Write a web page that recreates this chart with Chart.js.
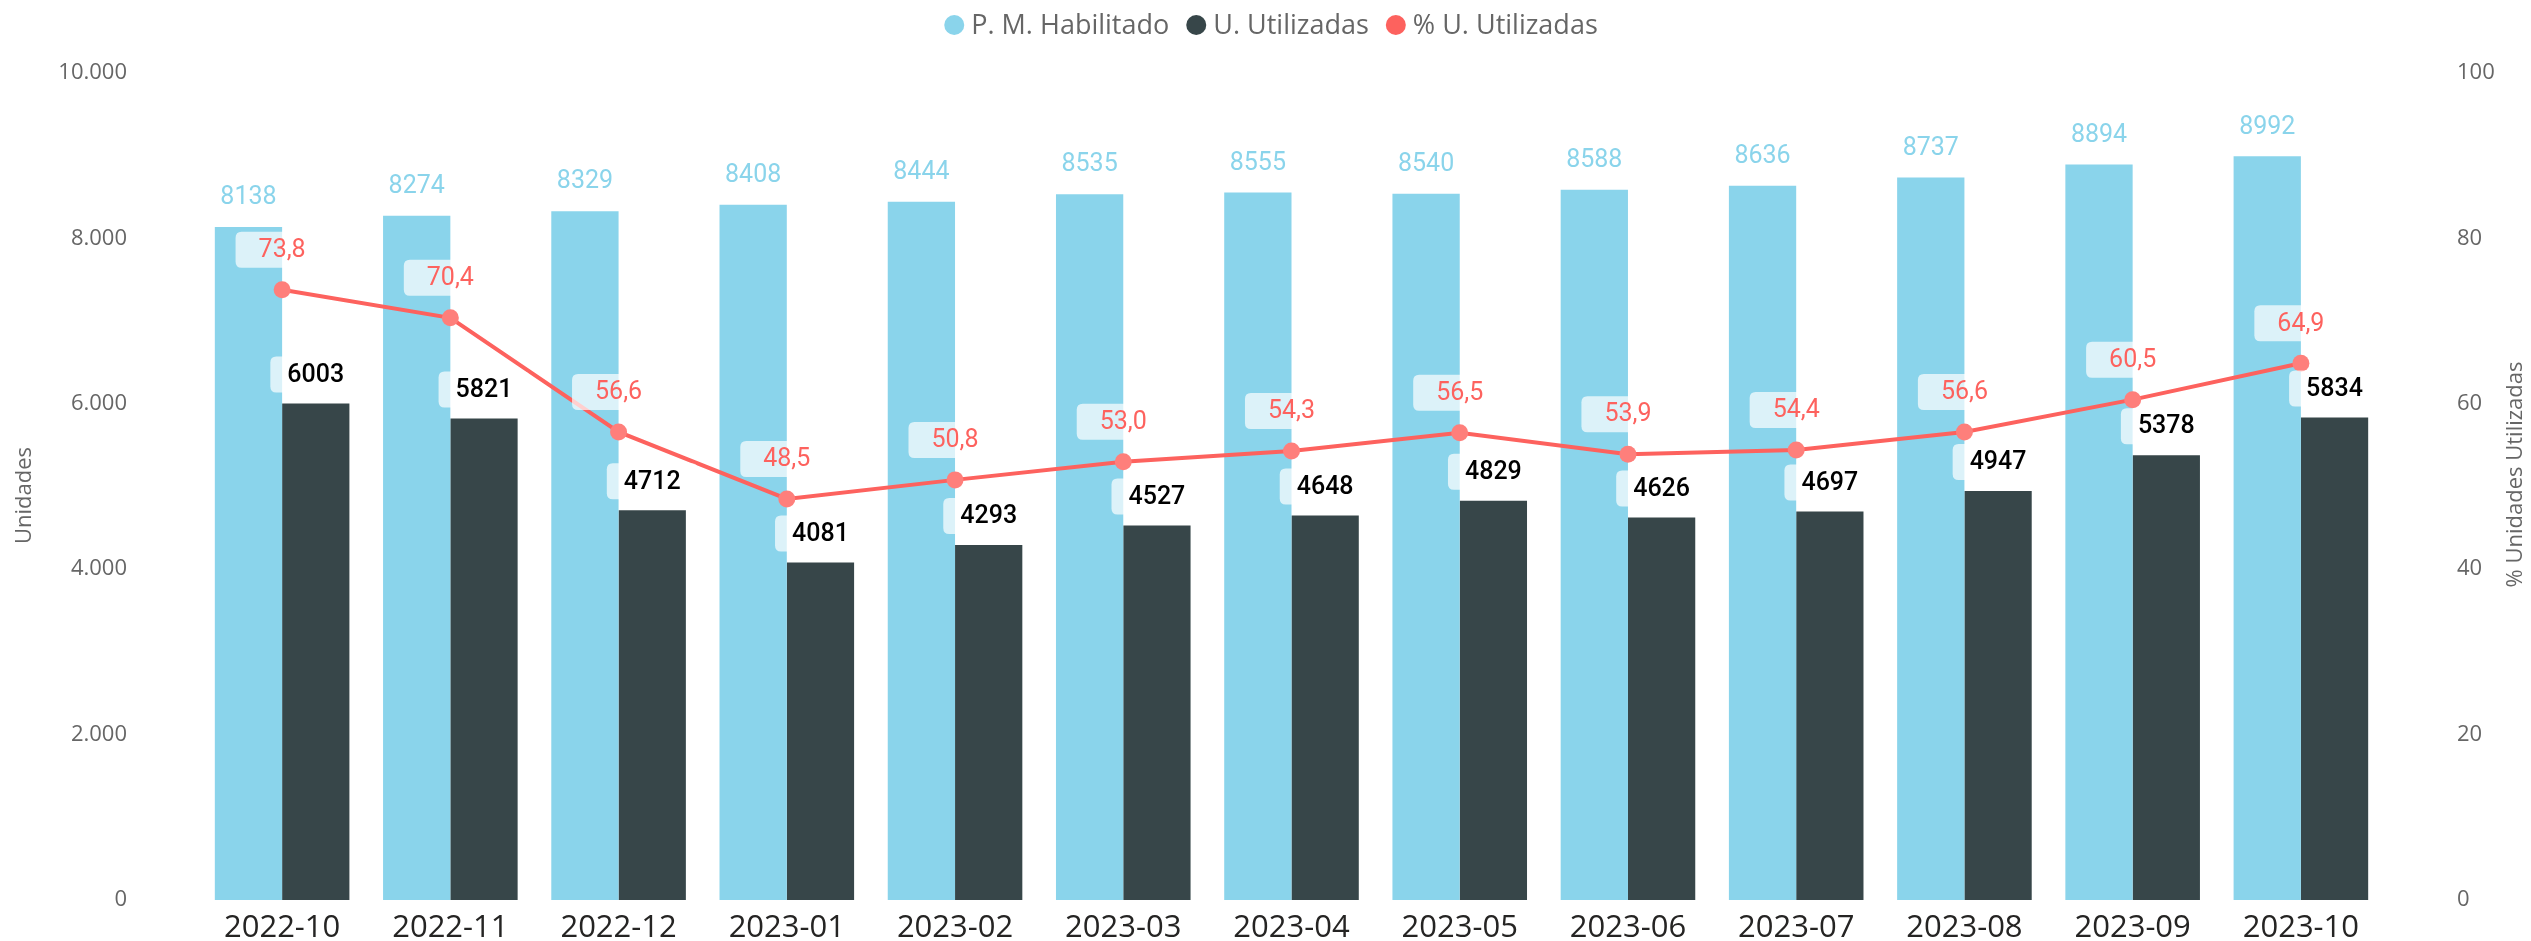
<!DOCTYPE html>
<html>
<head>
<meta charset="utf-8">
<script src="https://cdn.jsdelivr.net/npm/chart.js@4.4.1/dist/chart.umd.min.js"></script>
<style>
  html, body { margin: 0; padding: 0; background: #ffffff; }
  #wrap { width: 2531px; height: 941px; position: relative; }
</style>
</head>
<body>
<div id="wrap"><canvas id="c" width="2531" height="941"></canvas></div>
<script>
const categories = ['2022-10','2022-11','2022-12','2023-01','2023-02','2023-03','2023-04','2023-05','2023-06','2023-07','2023-08','2023-09','2023-10'];
const habilitado = [8138, 8274, 8329, 8408, 8444, 8535, 8555, 8540, 8588, 8636, 8737, 8894, 8992];
const utilizadas = [6003, 5821, 4712, 4081, 4293, 4527, 4648, 4829, 4626, 4697, 4947, 5378, 5834];
const pctUtilizadas = [73.8, 70.4, 56.6, 48.5, 50.8, 53.0, 54.3, 56.5, 53.9, 54.4, 56.6, 60.5, 64.9];
const leftTicks = [0, 2000, 4000, 6000, 8000, 10000];
const rightTicks = [0, 20, 40, 60, 80, 100];
const seriesNames = ['P. M. Habilitado', 'U. Utilizadas', '% U. Utilizadas'];
const axisTitles = ['Unidades', '% Unidades Utilizadas'];

const C_LIGHT = '#8AD4EB';
const C_DARK = '#374649';
const C_RED = '#FD625E';
const C_POINT = '#FE7F7B';
const TXT = '#666666';
const UI_FONT = '"Open Sans", "Noto Sans", sans-serif';
const LBL_FONT = 'Roboto, "Noto Sans", sans-serif';

function fmtThousands(v) {
  return String(Math.round(v)).replace(/\B(?=(\d{3})+(?!\d))/g, '.');
}
function fmtPct(v) { return v.toFixed(1).replace('.', ','); }

function roundRect(ctx, x, y, w, h, r) {
  ctx.beginPath();
  ctx.moveTo(x + r, y);
  ctx.lineTo(x + w - r, y);
  ctx.quadraticCurveTo(x + w, y, x + w, y + r);
  ctx.lineTo(x + w, y + h - r);
  ctx.quadraticCurveTo(x + w, y + h, x + w - r, y + h);
  ctx.lineTo(x + r, y + h);
  ctx.quadraticCurveTo(x, y + h, x, y + h - r);
  ctx.lineTo(x, y + r);
  ctx.quadraticCurveTo(x, y, x + r, y);
  ctx.closePath();
}

const decoPlugin = {
  id: 'deco',
  afterDatasetsDraw(chart) {
    const ctx = chart.ctx;
    ctx.save();
    ctx.textAlign = 'center';
    ctx.textBaseline = 'middle';
    // light blue bar labels
    const m0 = chart.getDatasetMeta(0);
    ctx.font = '400 25px ' + LBL_FONT;
    ctx.fillStyle = C_LIGHT;
    m0.data.forEach((el, j) => {
      ctx.fillText(String(habilitado[j]), el.x, el.y - 29);
    });
    // dark bar labels with translucent box
    const m1 = chart.getDatasetMeta(1);
    ctx.font = '500 25px ' + LBL_FONT;
    m1.data.forEach((el, j) => {
      const t = String(utilizadas[j]);
      const w = ctx.measureText(t).width + 34;
      const cy = el.y - 29;
      ctx.fillStyle = 'rgba(255,255,255,0.7)';
      roundRect(ctx, el.x - w / 2, cy - 18, w, 36, 6);
      ctx.fill();
      ctx.fillStyle = '#000000';
      ctx.fillText(t, el.x, cy + 1);
    });
    // line labels
    const m2 = chart.getDatasetMeta(2);
    ctx.font = '400 25px ' + LBL_FONT;
    m2.data.forEach((el, j) => {
      const t = fmtPct(pctUtilizadas[j]);
      const w = ctx.measureText(t).width + 46;
      const cy = el.y - 40;
      ctx.fillStyle = 'rgba(255,255,255,0.7)';
      roundRect(ctx, el.x - w / 2, cy - 18, w, 36, 6);
      ctx.fill();
      ctx.fillStyle = C_RED;
      ctx.fillText(t, el.x, cy + 1);
    });
    ctx.restore();
  },
  afterDraw(chart) {
    const ctx = chart.ctx;
    const area = chart.chartArea;
    ctx.save();
    // axis titles
    ctx.font = '400 22px ' + UI_FONT;
    ctx.fillStyle = TXT;
    ctx.textAlign = 'center';
    ctx.textBaseline = 'middle';
    const midY = (area.top + area.bottom) / 2;
    ctx.save();
    ctx.translate(25, midY + 9);
    ctx.rotate(-Math.PI / 2);
    ctx.fillText(axisTitles[0], 0, 0);
    ctx.restore();
    ctx.save();
    ctx.translate(2516, midY - 12);
    ctx.rotate(-Math.PI / 2);
    ctx.fillText(axisTitles[1], 0, 0);
    ctx.restore();
    // legend
    ctx.font = '400 27px ' + UI_FONT;
    ctx.textAlign = 'left';
    const colors = [C_LIGHT, C_DARK, C_RED];
    const r = 10, gapText = 7, gapItem = 17;
    let total = 0;
    const widths = seriesNames.map(n => ctx.measureText(n).width);
    widths.forEach((w, i) => { total += 2 * r + gapText + w + (i < widths.length - 1 ? gapItem : 0); });
    let x = 1271 - total / 2;
    const y = 25;
    seriesNames.forEach((n, i) => {
      ctx.fillStyle = colors[i];
      ctx.beginPath();
      ctx.arc(x + r, y, r, 0, Math.PI * 2);
      ctx.fill();
      x += 2 * r + gapText;
      ctx.fillStyle = TXT;
      ctx.fillText(n, x, y + 1);
      x += widths[i] + gapItem;
    });
    ctx.restore();
  }
};

const chart = new Chart(document.getElementById('c'), {
  data: {
    labels: categories,
    datasets: [
      { type: 'bar', label: seriesNames[0], data: habilitado, backgroundColor: C_LIGHT, yAxisID: 'y', order: 1,
        barPercentage: 1.0, categoryPercentage: 0.8 },
      { type: 'bar', label: seriesNames[1], data: utilizadas, backgroundColor: C_DARK, yAxisID: 'y', order: 2,
        barPercentage: 1.0, categoryPercentage: 0.8 },
      { type: 'line', label: seriesNames[2], data: pctUtilizadas, borderColor: C_RED, borderWidth: 4,
        pointBackgroundColor: C_POINT, pointBorderWidth: 0, pointRadius: 8.5, tension: 0,
        yAxisID: 'y1', order: 0 }
    ]
  },
  options: {
    responsive: false,
    animation: false,
    layout: { padding: { top: 73, left: 0, right: 0, bottom: 0 } },
    plugins: { legend: { display: false }, tooltip: { enabled: false } },
    scales: {
      x: {
        grid: { display: false, drawTicks: false },
        border: { display: false },
        ticks: { color: '#252423', font: { family: UI_FONT, size: 31 }, padding: 10, maxRotation: 0, autoSkip: false },
        afterFit(s) { s.height = 41; }
      },
      y: {
        position: 'left', min: 0, max: 10000,
        grid: { display: false, drawTicks: false },
        border: { display: false },
        afterBuildTicks(s) { s.ticks = leftTicks.map(v => ({ value: v })); },
        ticks: { color: TXT, font: { family: UI_FONT, size: 22 }, padding: 71, callback: v => fmtThousands(v) },
        afterFit(s) { s.width = 198; s.paddingTop = 13; s.paddingBottom = 13; }
      },
      y1: {
        position: 'right', min: 0, max: 100,
        grid: { display: false, drawTicks: false },
        border: { display: false },
        afterBuildTicks(s) { s.ticks = rightTicks.map(v => ({ value: v })); },
        ticks: { color: TXT, font: { family: UI_FONT, size: 22 }, padding: 72 },
        afterFit(s) { s.width = 146; s.paddingTop = 13; s.paddingBottom = 13; }
      }
    }
  },
  plugins: [decoPlugin]
});
</script>
</body>
</html>
